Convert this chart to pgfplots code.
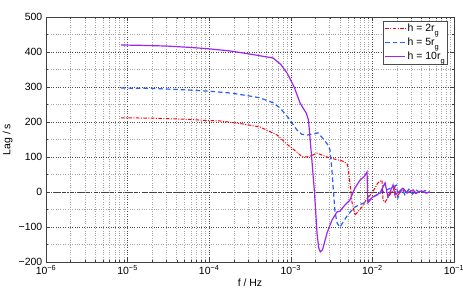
\documentclass[border=0pt]{standalone}
\usepackage{fontspec}
\setmainfont{Liberation Sans}
\usepackage{pgfplots}
\pgfplotsset{compat=1.18}
\definecolor{cred}{rgb}{1,0,0}
\definecolor{cblue}{rgb}{0.15,0.38,1}
\definecolor{cpurple}{rgb}{0.62,0.15,0.95}
\newcommand{\subg}{\raisebox{-4pt}{\fontsize{7.5}{8}\selectfont g}}
\begin{document}
\fontsize{10.5}{12}\selectfont
\begin{tikzpicture}
\begin{axis}[
  scale only axis,
  width=408bp, height=245bp,
  xmode=log,
  xmin=1e-6, xmax=1e-1,
  ymin=-200, ymax=500,
  xtick={1e-6,1e-5,1e-4,1e-3,1e-2,1e-1},
  xticklabels={10\textsuperscript{−6},10\textsuperscript{−5},10\textsuperscript{−4},10\textsuperscript{−3},10\textsuperscript{−2},10\textsuperscript{−1}},
  ytick={-200,-100,0,100,200,300,400,500},
  yticklabels={−200,−100,0,100,200,300,400,500},
  minor y tick num=1,
  grid=both,
  major grid style={dotted, black!70, line width=0.5pt},
  minor grid style={dotted, black!35, line width=0.5pt},
  tick align=inside,
  major tick length=4bp,
  minor tick length=2bp,
  axis line style={black!75, line width=0.6pt},
  every tick/.style={black!75},
  tick label style={font=\fontsize{10.5}{12}\selectfont},
  xlabel={f / Hz}, ylabel={Lag / s},
  label style={font=\fontsize{10.5}{12}\selectfont},
  xlabel style={yshift=3bp},
  ylabel style={yshift=-1bp},
  legend style={at={(0.985,0.985)}, anchor=north east, draw=black!70, fill=white,
    font=\fontsize{10.5}{12}\selectfont, inner sep=1pt, row sep=1pt, cells={anchor=west}},
  legend image code/.code={\draw[#1] (0bp,0bp) -- (20bp,0bp);},
]
\coordinate (sw) at (rel axis cs:0,0);
\addplot[forget plot, black!75, dash pattern=on 4pt off 1.5pt on 1pt off 1.5pt, line width=0.5pt] coordinates {(1e-6,0) (1e-1,0)};

\addplot[cred, line width=1pt, dash pattern=on 3.5pt off 1.5pt on 1pt off 1.5pt] coordinates {
(8.3e-6,212) (2e-5,211) (5e-5,208) (1.0e-4,204) (1.36e-4,203) (2.5e-4,195) (4.19e-4,186)
(6.78e-4,163) (9.24e-4,134) (1.19e-3,114) (1.35e-3,102) (1.58e-3,100) (1.8e-3,104) (2.09e-3,111)
(2.5e-3,104) (3.02e-3,97) (3.6e-3,93) (4.36e-3,88) (4.9e-3,80) (5.02e-3,71) (5.3e-3,26)
(5.62e-3,-29) (6.12e-3,-66) (7.46e-3,-43) (8.5e-3,-20) (9.89e-3,-3) (1.17e-2,26) (1.31e-2,34)
(1.35e-2,-23) (1.43e-2,-29) (1.72e-2,0) (1.9e-2,14) (1.93e-2,-14) (2.4e-2,6) (2.7e-2,-3)
(3.0e-2,5) (3.4e-2,-4) (3.9e-2,4) (4.4e-2,-3) (5.0e-2,0)
};
\addlegendentry{h = 2r\subg}

\addplot[cblue, line width=1.2pt, dash pattern=on 4.5pt off 3pt] coordinates {
(8.3e-6,297) (2e-5,296) (5e-5,292) (1.0e-4,288) (1.8e-4,283) (3e-4,275) (4.19e-4,269)
(6.05e-4,255) (7.4e-4,240) (9.2e-4,214) (1.19e-3,177) (1.36e-3,165) (1.6e-3,163) (1.87e-3,165)
(2.15e-3,169) (2.5e-3,152) (2.86e-3,134) (3.02e-3,120) (3.2e-3,60) (3.29e-3,20) (3.48e-3,-57)
(3.7e-3,-89) (4.0e-3,-100) (4.4e-3,-85) (5.0e-3,-65) (6.1e-3,-43) (7.5e-3,-33) (8.6e-3,-29)
(1.0e-2,-15) (1.14e-2,-9) (1.3e-2,0) (1.5e-2,6) (1.7e-2,12) (1.98e-2,20) (2.05e-2,-17)
(2.3e-2,10) (2.5e-2,-8) (2.8e-2,8) (3.1e-2,-6) (3.5e-2,5) (3.9e-2,-4) (4.4e-2,4) (5.0e-2,0)
};
\addlegendentry{h = 5r\subg}

\addplot[cpurple, line width=1.2pt] coordinates {
(8.3e-6,420) (1.5e-5,419) (3e-5,417) (6e-5,413) (1.0e-4,409) (1.8e-4,403) (3e-4,395)
(4.5e-4,388) (6.05e-4,383) (7.5e-4,365) (9.0e-4,340) (1.1e-3,300) (1.3e-3,254) (1.55e-3,225)
(1.65e-3,205) (1.8e-3,100) (1.95e-3,0) (2.1e-3,-120) (2.2e-3,-160) (2.3e-3,-171) (2.45e-3,-165)
(2.78e-3,-117) (3.2e-3,-80) (3.68e-3,-57) (4.0e-3,-55) (4.5e-3,-40) (5.3e-3,-23) (6.1e-3,11)
(7.05e-3,34) (8.0e-3,45) (8.6e-3,57) (8.8e-3,-31) (1.0e-2,-15) (1.24e-2,-3) (1.43e-2,26)
(1.55e-2,-14) (1.79e-2,20) (1.89e-2,-9) (2.37e-2,11) (2.66e-2,-3) (3.15e-2,6) (3.44e-2,-3)
(3.98e-2,3) (4.6e-2,-3) (5.08e-2,0)
};
\addlegendentry{h = 10r\subg}
\end{axis}
\pgfresetboundingbox
\path (sw) ++(-46bp,-37bp) rectangle ++(463bp,299bp);
\end{tikzpicture}
\end{document}
